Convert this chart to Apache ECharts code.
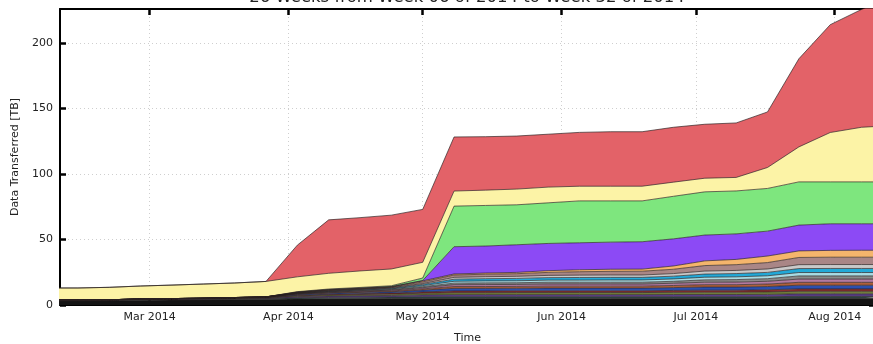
<!DOCTYPE html>
<html>
<head>
<meta charset="utf-8">
<script src="https://cdn.jsdelivr.net/npm/echarts@6/dist/echarts.min.js"></script>
<style>
  html, body { margin: 0; padding: 0; background: #fff; }
  #chart { width: 873px; height: 344px; }
</style>
</head>
<body>
<div id="chart"></div>
<script>
// Weekly sample dates (mid-week), one per week
const weeks = ['2014-02-06','2014-02-13','2014-02-20','2014-02-27','2014-03-06','2014-03-13','2014-03-20','2014-03-27',
  '2014-04-03','2014-04-10','2014-04-17','2014-04-24','2014-05-01','2014-05-08','2014-05-15','2014-05-22','2014-05-29',
  '2014-06-05','2014-06-12','2014-06-19','2014-06-26','2014-07-03','2014-07-10','2014-07-17','2014-07-24','2014-07-31',
  '2014-08-07','2014-08-14'];

// Month tick positions and their labels
const monthTicks = ['2014-03-01','2014-04-01','2014-05-01','2014-06-01','2014-07-01','2014-08-01'];
const monthNames = ['Jan','Feb','Mar','Apr','May','Jun','Jul','Aug','Sep','Oct','Nov','Dec'];
const yTicks = [0, 50, 100, 150, 200];

// Stacked layers, bottom to top (TB per week)
const black    = [3.2,3.2,3.3,3.6,3.8,4.0,4.2,4.4,4.6,4.7,4.8,4.9,5.0,5.0,5.0,5.0,5.0,5.0,5.0,5.0,5.0,5.0,5.0,5.0,5.2,5.2,5.2,5.2];
const slate    = [0.3,0.3,0.3,0.4,0.4,0.4,0.5,0.5,1.0,1.1,1.2,1.2,1.3,1.3,1.3,1.3,1.3,1.3,1.3,1.3,1.3,1.3,1.3,1.3,1.4,1.4,1.4,1.4];
const violet   = [0.2,0.2,0.2,0.3,0.3,0.3,0.3,0.4,0.8,1.0,1.1,1.2,1.4,1.6,1.6,1.6,1.6,1.6,1.6,1.6,1.7,1.7,1.7,1.8,1.9,1.9,1.9,1.9];
const olive    = [0.1,0.1,0.1,0.1,0.2,0.2,0.3,0.3,0.6,0.8,0.9,1.0,1.3,1.5,1.5,1.6,1.6,1.6,1.6,1.6,1.7,1.8,1.8,1.9,2.0,2.0,2.0,2.0];
const maroon   = [0,0,0,0.1,0.1,0.1,0.1,0.2,0.4,0.6,0.7,0.8,1.0,1.3,1.3,1.3,1.3,1.3,1.3,1.3,1.4,1.5,1.5,1.6,1.8,1.8,1.8,1.8];
const blue     = [0,0,0.1,0.1,0.1,0.1,0.1,0.2,0.6,0.8,0.9,1.0,1.4,2.0,2.0,2.0,2.1,2.1,2.1,2.1,2.2,2.4,2.4,2.5,2.8,2.8,2.8,2.8];
const sienna   = [0,0,0,0,0,0.1,0.1,0.1,0.3,0.4,0.5,0.6,0.9,1.4,1.4,1.4,1.5,1.5,1.5,1.5,1.6,1.8,1.8,1.9,2.2,2.2,2.2,2.2];
const mauve    = [0,0,0,0,0,0,0.1,0.1,0.3,0.4,0.5,0.6,0.9,1.4,1.5,1.5,1.6,1.6,1.6,1.6,1.7,1.9,2.0,2.1,2.5,2.5,2.5,2.5];
const gray     = [0,0,0,0,0,0,0,0,0.2,0.3,0.4,0.5,0.8,1.2,1.3,1.3,1.4,1.4,1.4,1.4,1.5,1.8,1.9,2.0,2.4,2.4,2.4,2.4];
const paleCyan = [0,0,0,0,0,0,0,0,0.2,0.3,0.4,0.5,0.8,1.4,1.5,1.5,1.6,1.6,1.7,1.7,1.8,2.0,2.1,2.2,2.6,2.6,2.6,2.6];
const cyan     = [0,0,0,0,0,0,0,0,0.2,0.3,0.4,0.5,0.9,1.6,1.7,1.8,1.9,2.0,2.0,2.0,2.1,2.4,2.5,2.6,3.0,3.1,3.1,3.1];
const silver   = [0,0,0,0,0,0,0,0,0.2,0.3,0.3,0.4,0.7,1.4,1.5,1.6,1.7,1.8,1.8,1.8,2.0,2.3,2.4,2.6,3.0,3.0,3.0,3.0];
const rosy     = [0,0,0,0,0,0,0,0,0.2,0.3,0.3,0.4,1.2,1.8,1.9,2.0,2.3,2.6,2.8,2.9,3.3,4.2,4.4,4.9,5.5,5.6,5.6,5.6];
const peach    = [0,0,0,0,0,0,0,0,0.2,0.3,0.3,0.3,0.8,0.8,0.9,1.0,1.3,1.5,1.6,1.6,2.5,3.6,4.0,5.0,5.0,5.2,5.3,5.3];
const purple   = [0,0,0,0,0,0,0,0,0.1,0.2,0.2,0.2,0.3,20.8,20.6,21.1,20.8,20.6,20.7,20.9,20.7,19.7,19.5,19.0,19.7,20.3,20.2,20.2];
const green    = [0,0,0,0,0,0,0,0,0.3,0.4,0.5,0.6,1.9,31.0,31.0,30.5,31.0,32.0,31.5,31.2,32.5,33.0,32.8,32.6,33.0,32.0,32.0,32.0];
const yellow   = [9.2,9.2,9.5,9.9,10.3,10.8,11.1,11.8,11.3,12.0,12.6,12.8,12.0,11.5,11.7,12.0,12.0,11.2,11.2,11.2,10.8,10.4,10.3,16.0,26.7,37.7,41.7,43.0];
const red      = [0,0,0,0,0,0,0,0,24.2,40.8,40.7,41.1,40.4,41.3,40.8,40.5,40.4,41.1,41.6,41.6,41.9,41.2,41.6,42.4,67.3,82.3,90.0,98.0];

const layers = [
  ['black', black, '#141414'], ['slate', slate, '#2e4a48'], ['violet', violet, '#5b3f8c'],
  ['olive', olive, '#6e7d3c'], ['maroon', maroon, '#8a2f2f'], ['blue', blue, '#2b4fae'],
  ['sienna', sienna, '#b0603a'], ['mauve', mauve, '#b27aa0'], ['gray', gray, '#8a8a8a'],
  ['paleCyan', paleCyan, '#a8dbe3'], ['cyan', cyan, '#22a9d8'], ['silver', silver, '#c9c9c9'],
  ['rosy', rosy, '#a98686'], ['peach', peach, '#f5b56c'], ['purple', purple, '#8c4af5'],
  ['green', green, '#7ee67e'], ['yellow', yellow, '#fcf3a6'], ['red', red, '#e36268']
];

const FONT = 'DejaVu Sans';
const toTime = s => { const p = s.split('-').map(Number); return new Date(p[0], p[1] - 1, p[2]).getTime(); };
const xMin = toTime('2014-02-09');
const xMax = toTime('2014-08-10');
const yMax = 226;
const tickTimes = monthTicks.map(toTime);

// Series live on a time axis (so stacking runs on the y values)
const series = layers.map(([name, vals, color]) => ({
  name: name,
  type: 'line',
  stack: 'total',
  xAxisIndex: 0,
  yAxisIndex: 0,
  symbol: 'none',
  clip: true,
  data: weeks.map((w, i) => [toTime(w), vals[i]]),
  lineStyle: { color: '#2a2020', width: 0.8, opacity: 0.85 },
  areaStyle: { color: color, opacity: 1 },
  itemStyle: { color: color },
  emphasis: { disabled: true }
}));

const axisLineStyle = { color: '#000', width: 2 };
const tickStyle = { inside: true, length: 6, lineStyle: { color: '#000', width: 2.5 } };
const monthLabel = v => { const d = new Date(v); return monthNames[d.getMonth()] + ' ' + d.getFullYear(); };
const gridLine = { color: '#cfcfcf', type: [1, 3], width: 1 };

const chart = echarts.init(document.getElementById('chart'), null, { renderer: 'canvas' });
chart.setOption({
  animation: false,
  backgroundColor: '#fff',
  grid: { left: 60, top: 9, width: 815, height: 296, containLabel: false, outerBoundsMode: 'none' },
  graphic: [{
    type: 'text', x: 467, y: -2, z: 100,
    style: { text: '26 Weeks from Week 06 of 2014 to Week 32 of 2014', font: '16.5px "DejaVu Sans"', fill: '#222', align: 'center', verticalAlign: 'middle' }
  }],
  xAxis: [{
    // data axis
    type: 'time', min: xMin, max: xMax, position: 'bottom',
    axisLine: { show: false }, axisTick: { show: false }, axisLabel: { show: false }, splitLine: { show: false }
  }, {
    // month ticks, labels and grid lines along the bottom
    type: 'value', min: xMin, max: xMax, position: 'bottom', scale: true,
    axisLine: { lineStyle: axisLineStyle },
    axisTick: Object.assign({ customValues: tickTimes }, tickStyle),
    axisLabel: { customValues: tickTimes, fontFamily: FONT, fontSize: 11, color: '#222', margin: 7, formatter: monthLabel },
    splitLine: { show: true, lineStyle: gridLine },
    name: 'Time', nameLocation: 'middle', nameGap: 28,
    nameTextStyle: { fontFamily: FONT, fontSize: 11, color: '#222' }
  }, {
    // mirrored ticks along the top frame
    type: 'value', min: xMin, max: xMax, position: 'top', scale: true,
    axisLine: { lineStyle: axisLineStyle },
    axisTick: Object.assign({ customValues: tickTimes }, tickStyle),
    axisLabel: { show: false },
    splitLine: { show: false }
  }],
  yAxis: [{
    type: 'value', min: 0, max: yMax, interval: 50, position: 'left',
    axisLine: { show: true, lineStyle: axisLineStyle },
    axisTick: Object.assign({ show: true }, tickStyle),
    axisLabel: {
      fontFamily: FONT, fontSize: 11, color: '#222', margin: 7, showMaxLabel: false,
      formatter: v => (yTicks.indexOf(v) >= 0 ? String(v) : '')
    },
    splitLine: { show: true, lineStyle: gridLine },
    name: 'Data Transferred [TB]', nameLocation: 'middle', nameGap: 30, nameRotate: 90,
    nameTextStyle: { fontFamily: FONT, fontSize: 11, color: '#222' }
  }, {
    type: 'value', min: 0, max: yMax, interval: 50, position: 'right',
    axisLine: { show: true, lineStyle: axisLineStyle },
    axisTick: Object.assign({ show: true }, tickStyle),
    axisLabel: { show: false },
    splitLine: { show: false }
  }],
  series: series
});
</script>
</body>
</html>
